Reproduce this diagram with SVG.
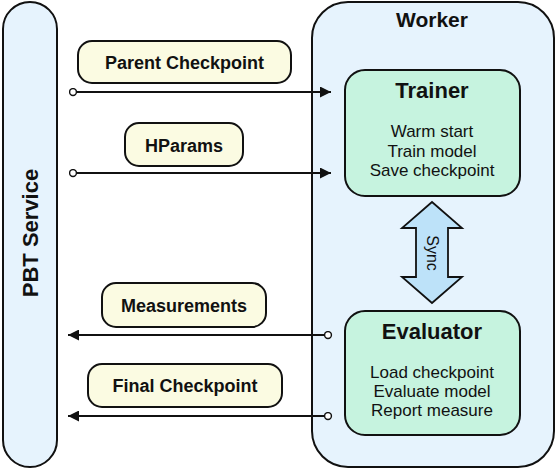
<svg xmlns="http://www.w3.org/2000/svg" width="556" height="470" viewBox="0 0 556 470">
<defs>
<marker id="ah" viewBox="0 0 10 10" refX="10" refY="5" markerWidth="5.5" markerHeight="5.5" markerUnits="strokeWidth" orient="auto">
<path d="M0,0 L10,5 L0,10 z" fill="#111"/>
</marker>
<marker id="dot" viewBox="0 0 10 10" refX="5" refY="5" markerWidth="4.5" markerHeight="4.5" markerUnits="strokeWidth" orient="auto">
<circle cx="5" cy="5" r="3.8" fill="#fff" stroke="#111" stroke-width="1.6"/>
</marker>
</defs>
<style>
text{font-family:"Liberation Sans",Arial,sans-serif;fill:#111;text-anchor:middle}
.b{font-weight:bold}
.body{font-size:17px}
.lt{font-weight:bold;font-size:18px}
.cont{fill:#e6f3fd;stroke:#111;stroke-width:2}
.proc{fill:#c6f3df;stroke:#111;stroke-width:2}
.lab{fill:#fbfbe2;stroke:#111;stroke-width:2}
.conn{stroke:#111;stroke-width:2;fill:none;marker-start:url(#dot);marker-end:url(#ah)}
</style>
<g id="pbt-service">
<rect class="cont" x="3" y="2" width="54" height="465" rx="27"/>
<text class="b" font-size="22" transform="translate(38,233) rotate(-90)">PBT Service</text>
</g>
<g id="worker">
<rect class="cont" x="312" y="2" width="242" height="465" rx="36"/>
<text class="b" font-size="21" x="432" y="27">Worker</text>
</g>
<g id="trainer">
<rect class="proc" x="345" y="70" width="175" height="126" rx="20"/>
<text class="b" font-size="22" x="432" y="98">Trainer</text>
<text class="body" x="432" y="137">Warm start</text>
<text class="body" x="432" y="157">Train model</text>
<text class="body" x="432" y="176">Save checkpoint</text>
</g>
<g id="evaluator">
<rect class="proc" x="345" y="311" width="175" height="124" rx="20"/>
<text class="b" font-size="22" x="432" y="339">Evaluator</text>
<text class="body" x="432" y="378">Load checkpoint</text>
<text class="body" x="432" y="397">Evaluate model</text>
<text class="body" x="432" y="416">Report measure</text>
</g>
<g id="sync">
<path d="M432,202 L462,228 L448,228 L448,277 L462,277 L432,303 L402,277 L416,277 L416,228 L402,228 Z" fill="#bde2f9" stroke="#111" stroke-width="1.8" stroke-linejoin="miter"/>
<text font-size="16" transform="translate(426.5,253) rotate(90)">Sync</text>
</g>
<g id="connectors">
<line class="conn" x1="73" y1="92" x2="331" y2="92"/>
<line class="conn" x1="73" y1="173" x2="331" y2="173"/>
<line class="conn" x1="328" y1="335" x2="68" y2="335"/>
<line class="conn" x1="328" y1="416" x2="68" y2="416"/>
</g>
<g id="label-parent-checkpoint">
<rect class="lab" x="78" y="41" width="213" height="42" rx="14"/>
<text class="lt" x="184.5" y="68.5">Parent Checkpoint</text>
</g>
<g id="label-hparams">
<rect class="lab" x="125" y="123" width="118" height="43" rx="14"/>
<text class="lt" x="184" y="152">HParams</text>
</g>
<g id="label-measurements">
<rect class="lab" x="102" y="283" width="164" height="44" rx="14"/>
<text class="lt" x="184" y="312">Measurements</text>
</g>
<g id="label-final-checkpoint">
<rect class="lab" x="88" y="364" width="194" height="43" rx="14"/>
<text class="lt" x="185" y="392">Final Checkpoint</text>
</g>
</svg>
